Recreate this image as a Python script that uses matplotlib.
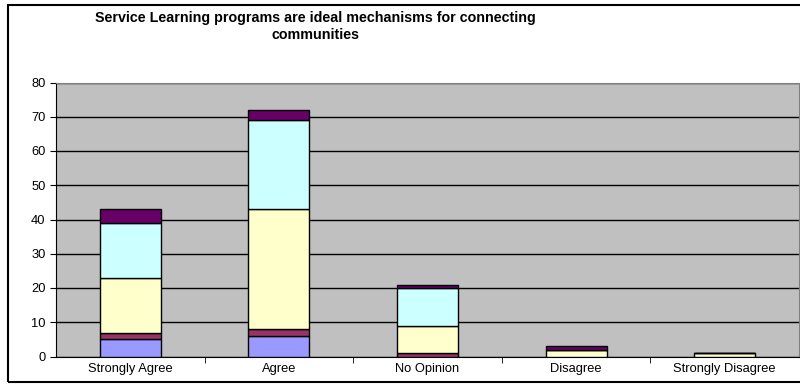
import numpy as np
import matplotlib.pyplot as plt
from matplotlib.patches import Rectangle

plt.rcParams['font.family'] = ['Liberation Sans', 'DejaVu Sans']

categories = ['Strongly Agree', 'Agree', 'No Opinion', 'Disagree', 'Strongly Disagree']
s1 = [5, 6, 0, 0, 0]
s2 = [2, 2, 1, 0, 0]
s3 = [16, 35, 8, 2, 1]
s4 = [16, 26, 11, 0, 0]
s5 = [4, 3, 1, 1, 0]
colors = ['#9999FF', '#993366', '#FFFFCC', '#CCFFFF', '#660066']

fig = plt.figure(figsize=(8, 3.84), dpi=100)
# outer chart border
fig.patches.append(Rectangle((8 / 800, 2 / 384), 800, 377 / 384, transform=fig.transFigure,
                             fill=False, edgecolor='black', linewidth=1.5))

ax = fig.add_axes([56 / 800, (384 - 356.5) / 384, 743 / 800, 274 / 384])
ax.set_facecolor('#C0C0C0')

x = np.arange(len(categories))
bottom = np.zeros(len(categories))
for vals, c in zip([s1, s2, s3, s4, s5], colors):
    ax.bar(x, vals, width=0.41, bottom=bottom, color=c, edgecolor='black', linewidth=1, zorder=3)
    bottom += np.array(vals)

ax.set_xlim(-0.5, len(categories) - 0.5)
ax.set_ylim(0, 80)
ax.set_yticks(range(0, 81, 10))
ax.yaxis.grid(True, color='black', linewidth=1)
ax.set_axisbelow(True)

ax.set_xticks(x)
ax.set_xticklabels(categories, fontsize=9.3)
ax.tick_params(axis='x', length=0, pad=5)
ax.set_xticks(np.arange(0.5, len(categories) - 0.5, 1), minor=True)
ax.tick_params(axis='x', which='minor', length=4, direction='out')
ax.tick_params(axis='y', labelsize=9.3, length=4, direction='out')

for side in ['top', 'right']:
    ax.spines[side].set_color('#808080')
ax.spines['left'].set_color('black')
ax.spines['bottom'].set_color('black')

fig.text(315 / 800, 1 - 26.5 / 384, 'Service Learning programs are ideal mechanisms for connecting\ncommunities',
         ha='center', va='center', fontsize=10.3, fontweight='bold', linespacing=1.3)

fig.savefig('out.png', dpi=100)
